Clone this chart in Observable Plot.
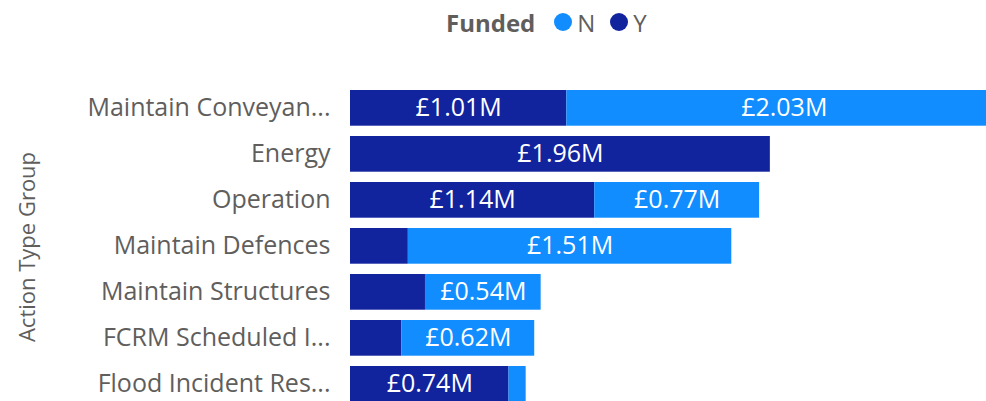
<!DOCTYPE html>
<html><head><meta charset="utf-8">
<script src="https://cdn.jsdelivr.net/npm/d3@7"></script>
<script src="https://cdn.jsdelivr.net/npm/@observablehq/plot@0.6"></script>
<style>
body{margin:0;background:#fff;font-family:"Open Sans",sans-serif;}
#legend{position:relative;height:46px;width:986px;display:flex;align-items:center;box-sizing:border-box;padding-left:446px;padding-bottom:2px;color:#605E5C;}
#legend .lt{font-weight:bold;font-size:24px;margin-right:19px;}
#legend .sw{display:inline-block;width:18px;height:18px;border-radius:50%;margin-right:5px;}
#legend .it{display:flex;align-items:center;font-size:24px;margin-right:15px;}
#chart svg{display:block;}
</style></head><body>
<div id="legend"></div>
<div id="chart"></div>
<script>
const groups = ["Maintain Conveyan...","Energy","Operation","Maintain Defences","Maintain Structures","FCRM Scheduled I...","Flood Incident Res..."];
const fundedY = [1.01,1.96,1.14,0.27,0.35,0.24,0.74];
const fundedN = [2.03,0,0.77,1.51,0.54,0.62,0.08];
const seriesKeys = ["N","Y"];
const seriesColors = ["#118DFF","#12239E"];
const legendTitle = "Funded";
const axisTitle = "Action Type Group";
const labelMin = 0.5;

const data = [];
groups.forEach((g,i)=>{
  data.push({group:g, funded:"Y", value:fundedY[i]});
  data.push({group:g, funded:"N", value:fundedN[i]});
});
const fmt = v => "£" + d3.format(".2f")(v) + "M";

const leg = document.getElementById("legend");
leg.innerHTML = `<span class="lt">${legendTitle}</span>` +
  seriesKeys.map((k,i)=>`<span class="it"><span class="sw" style="background:${seriesColors[i]}"></span>${k}</span>`).join("");

const chart = Plot.plot({
  width: 986, height: 355,
  marginLeft: 350, marginRight: 0, marginTop: 0, marginBottom: 0,
  style: {fontFamily: "Open Sans", fontSize: "25px", background: "white", overflow: "hidden"},
  x: {domain: [0, 3.04], range: [350, 1001.2], axis: null},
  y: {domain: groups, range: [38.85, 360.85], paddingInner: 0.224, paddingOuter: 0.112, round: false, label: null, axis: null},
  color: {domain: seriesKeys, range: seriesColors},
  marks: [
    Plot.barX(data, Plot.stackX({x: "value", y: "group", fill: "funded"})),
    Plot.text(data, Plot.stackX({x: "value", y: "group", text: d => d.value >= labelMin ? fmt(d.value) : "", fill: "white", fontSize: 25})),
    Plot.axisY({tickSize: 0, tickPadding: 20, color: "#605E5C", fontSize: 25, label: null}),
    Plot.text([axisTitle], {frameAnchor: "left", textAnchor: "middle", dx: -323, dy: 23, rotate: -90, fontSize: 22, fill: "#605E5C"})
  ]
});
document.getElementById("chart").appendChild(chart);
</script>
</body></html>
